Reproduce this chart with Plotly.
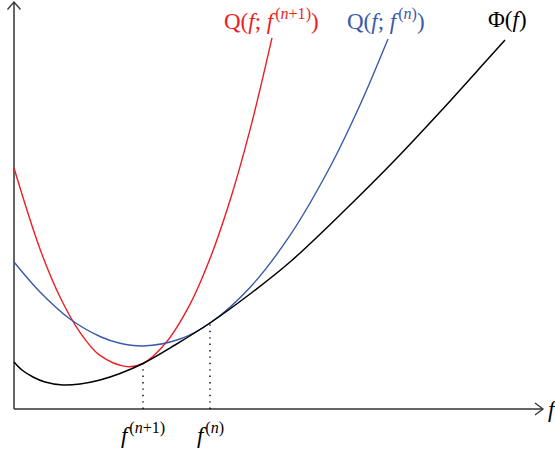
import plotly.graph_objects as go

# Phi(f)
phi_f = [0.00, 0.08, 0.19, 0.31, 0.49, 0.66, 0.86, 1.06, 1.29, 1.61, 1.96, 2.36, 2.76, 3.31, 3.81, 4.26, 4.73, 4.91]
phi_v = [0.47, 0.39, 0.32, 0.27, 0.24, 0.25, 0.29, 0.355, 0.455, 0.64, 0.86, 1.15, 1.47, 1.99, 2.49, 2.97, 3.49, 3.69]

# Q(f; f^(n))
qn_f = [0.00, 0.26, 0.56, 0.86, 1.06, 1.29, 1.66, 1.96, 2.36, 2.76, 3.16, 3.46, 3.74]
qn_v = [1.47, 1.17, 0.90, 0.725, 0.657, 0.63, 0.70, 0.86, 1.216, 1.736, 2.42, 3.04, 3.70]

# Q(f; f^(n+1))
qn1_f = [0.00, 0.26, 0.46, 0.66, 0.86, 1.13, 1.29, 1.51, 1.76, 1.96, 2.16, 2.36, 2.58]
qn1_v = [2.41, 1.60, 1.12, 0.766, 0.536, 0.424, 0.455, 0.652, 1.047, 1.504, 2.085, 2.791, 3.712]

# iterates
f_n1 = 1.29
f_n = 1.96
phi_at_n1 = 0.455
phi_at_n = 0.86

x_max = 5.29
y_max = 4.07

RED = "#ee1d25"
BLUE = "#3b5aa8"
AXIS = "#333333"
FONT = "Liberation Serif"
FS = 23
HS = "\u200a"

fig = go.Figure()

# axes
fig.add_trace(go.Scatter(x=[0, x_max], y=[0, 0], mode="lines",
                         line=dict(color=AXIS, width=1.5), hoverinfo="skip"))
fig.add_trace(go.Scatter(x=[0, 0], y=[0, y_max], mode="lines",
                         line=dict(color=AXIS, width=1.5), hoverinfo="skip"))
# arrow chevrons
fig.add_trace(go.Scatter(x=[x_max - 0.08, x_max, x_max - 0.08], y=[0.06, 0, -0.06], mode="lines",
                         line=dict(color=AXIS, width=1.3), hoverinfo="skip"))
fig.add_trace(go.Scatter(x=[-0.065, 0, 0.065], y=[y_max - 0.075, y_max, y_max - 0.075], mode="lines",
                         line=dict(color=AXIS, width=1.3), hoverinfo="skip"))

# dotted guides
for fx, fy in [(f_n1, phi_at_n1), (f_n, phi_at_n)]:
    fig.add_trace(go.Scatter(x=[fx, fx], y=[0, fy], mode="lines",
                             line=dict(color="black", width=1.4, dash="1.4px,5px"), hoverinfo="skip"))

# curves
fig.add_trace(go.Scatter(x=qn1_f, y=qn1_v, mode="lines", line=dict(color=RED, width=1.4, shape="spline")))
fig.add_trace(go.Scatter(x=qn_f, y=qn_v, mode="lines", line=dict(color=BLUE, width=1.4, shape="spline")))
fig.add_trace(go.Scatter(x=phi_f, y=phi_v, mode="lines", line=dict(color="black", width=1.5, shape="spline")))

ann = []
ann.append(dict(x=2.57, y=3.90, text=f"Q(<i>f</i>; <i>f</i>{HS}<sup>(<i>n</i>+1)</sup>)",
                font=dict(color=RED, size=FS, family=FONT)))
ann.append(dict(x=3.72, y=3.90, text=f"Q(<i>f</i>; <i>f</i>{HS}<sup>(<i>n</i>)</sup>)",
                font=dict(color=BLUE, size=FS, family=FONT)))
ann.append(dict(x=4.93, y=3.90, text="Φ(<i>f</i>)",
                font=dict(color="black", size=FS, family=FONT)))
ann.append(dict(x=x_max + 0.03, y=0.0, text="<i>f</i>", xanchor="left",
                font=dict(color="black", size=FS, family=FONT)))
ann.append(dict(x=f_n1, y=-0.24, text=f"<i>f</i>{HS}<sup>(<i>n</i>+1)</sup>",
                font=dict(color="black", size=FS, family=FONT)))
ann.append(dict(x=f_n, y=-0.24, text=f"<i>f</i>{HS}<sup>(<i>n</i>)</sup>",
                font=dict(color="black", size=FS, family=FONT)))
for a in ann:
    a.setdefault("xanchor", "center")
    a.update(showarrow=False, xref="x", yref="y", yanchor="middle")

fig.update_layout(
    width=555, height=451,
    margin=dict(l=0, r=0, t=0, b=0),
    paper_bgcolor="white", plot_bgcolor="white",
    showlegend=False,
    annotations=ann,
    xaxis=dict(range=[-0.14, 5.41], visible=False, fixedrange=True),
    yaxis=dict(range=[-0.42, 4.09], visible=False, fixedrange=True),
)

fig.write_html("out.html", config={"displayModeBar": False},
               post_script="document.body.style.margin='0';")
